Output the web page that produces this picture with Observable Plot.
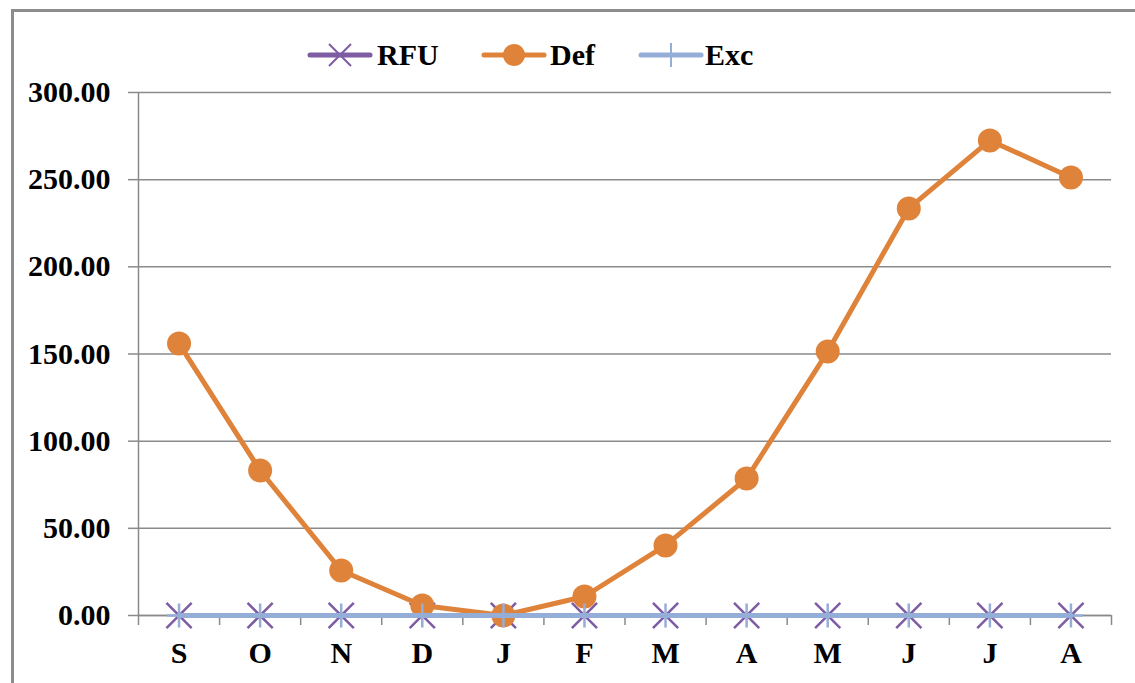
<!DOCTYPE html>
<html>
<head>
<meta charset="utf-8">
<script src="https://cdn.jsdelivr.net/npm/d3@7"></script>
<script src="https://cdn.jsdelivr.net/npm/@observablehq/plot@0.6"></script>
<style>
  html, body { margin: 0; padding: 0; background: #fff; }
  #wrap { position: relative; width: 1135px; height: 683px; overflow: hidden; font-family: "Liberation Serif", "Times New Roman", serif; }
  #frame { position: absolute; left: 11px; top: 9px; width: 1300px; height: 900px; border-left: 3px solid #8c8c8c; border-top: 3px solid #8c8c8c; pointer-events: none; }
  #legend { position: relative; height: 80px; }
  .lg { position: absolute; top: 40px; }
  .lt { position: absolute; top: 36px; font-weight: bold; font-size: 30px; line-height: 38px; color: #000; }
</style>
</head>
<body>
<div id="wrap">
  <div id="frame"></div>
  <div id="legend"></div>
  <div id="chart"></div>
</div>
<script>
const months = ["S","O","N","D","J","F","M","A","M","J","J","A"];
const rfu = [0,0,0,0,0,0,0,0,0,0,0,0];
const def = [156.0, 83.2, 25.8, 5.7, 0.0, 10.9, 40.2, 78.6, 151.4, 233.5, 272.5, 251.3];
const exc = [0,0,0,0,0,0,0,0,0,0,0,0];
const yTicks = [0, 50, 100, 150, 200, 250, 300];
const seriesNames = ["RFU", "Def", "Exc"];

const cRFU = "#7d5ca3", cDef = "#df833a", cExc = "#95aed8", cGrid = "#8a8a8a";

const idx = months.map((m, i) => i);
const rows = vals => idx.map(i => ({i, v: vals[i]}));
const bounds = d3.range(months.length + 1).map(i => i - 0.5);

// Legend
const legend = document.getElementById("legend");
const lgItems = [
  {name: seriesNames[0], color: cRFU, kind: "times", lx: 307, tx: 377},
  {name: seriesNames[1], color: cDef, kind: "circle", lx: 481, tx: 550},
  {name: seriesNames[2], color: cExc, kind: "plus", lx: 638, tx: 705}
];
for (const it of lgItems) {
  const ns = "http://www.w3.org/2000/svg";
  const svg = document.createElementNS(ns, "svg");
  svg.setAttribute("class", "lg");
  svg.setAttribute("width", 66); svg.setAttribute("height", 30);
  svg.style.left = it.lx + "px";
  const ln = document.createElementNS(ns, "line");
  ln.setAttribute("x1", 3); ln.setAttribute("x2", 63); ln.setAttribute("y1", 15); ln.setAttribute("y2", 15);
  ln.setAttribute("stroke", it.color); ln.setAttribute("stroke-width", 5); ln.setAttribute("stroke-linecap", "round");
  svg.appendChild(ln);
  if (it.kind === "circle") {
    const c = document.createElementNS(ns, "circle");
    c.setAttribute("cx", 33); c.setAttribute("cy", 15); c.setAttribute("r", 11);
    c.setAttribute("fill", it.color);
    svg.appendChild(c);
  } else if (it.kind === "times") {
    const p = document.createElementNS(ns, "path");
    p.setAttribute("d", "M22,4L44,26M22,26L44,4");
    p.setAttribute("stroke", it.color); p.setAttribute("stroke-width", 2);
    svg.appendChild(p);
  } else {
    const p = document.createElementNS(ns, "path");
    p.setAttribute("d", "M33,3L33,27");
    p.setAttribute("stroke", it.color); p.setAttribute("stroke-width", 2);
    svg.appendChild(p);
  }
  legend.appendChild(svg);
  const t = document.createElement("div");
  t.className = "lt"; t.textContent = it.name; t.style.left = it.tx + "px";
  legend.appendChild(t);
}

const chart = Plot.plot({
  width: 1135,
  height: 603,
  marginLeft: 138,
  marginRight: 24,
  marginTop: 12,
  marginBottom: 68,
  style: {fontFamily: "'Liberation Serif', 'Times New Roman', serif", fontSize: "30px", fontWeight: "bold", background: "transparent", color: "#000", overflow: "visible"},
  x: {type: "linear", domain: [-0.5, months.length - 0.5], label: null},
  y: {domain: [0, 300], label: null},
  marks: [
    Plot.gridY(yTicks, {stroke: cGrid, strokeOpacity: 1, strokeWidth: 1.5}),
    Plot.ruleX([-0.5], {y1: 0, y2: 300, stroke: cGrid, strokeWidth: 1.5}),
    Plot.ruleY([0], {stroke: cGrid, strokeWidth: 1.5}),
    Plot.axisY(yTicks, {tickSize: 10, tickPadding: 18, tickFormat: d => d.toFixed(2), stroke: cGrid, strokeWidth: 1.5, label: null}),
    Plot.axisX(bounds, {tickSize: 10, tickFormat: () => "", stroke: cGrid, strokeWidth: 1.5, label: null}),
    Plot.axisX(idx, {tickSize: 0, tickPadding: 26, tickFormat: i => months[i], label: null}),
    Plot.line(rows(rfu), {x: "i", y: "v", stroke: cRFU, strokeWidth: 5}),
    Plot.dot(rows(rfu), {x: "i", y: "v", symbol: "times", r: 11.5, stroke: cRFU, strokeWidth: 2.5}),
    Plot.line(rows(def), {x: "i", y: "v", stroke: cDef, strokeWidth: 5}),
    Plot.dot(rows(def), {x: "i", y: "v", r: 12, fill: cDef, stroke: "none"}),
    Plot.line(rows(exc), {x: "i", y: "v", stroke: cExc, strokeWidth: 5}),
    Plot.dot(rows(exc), {x: "i", y: "v", symbol: "plus", r: 7.8, stroke: cExc, strokeWidth: 2.5})
  ]
});
document.getElementById("chart").appendChild(chart);
</script>
</body>
</html>
